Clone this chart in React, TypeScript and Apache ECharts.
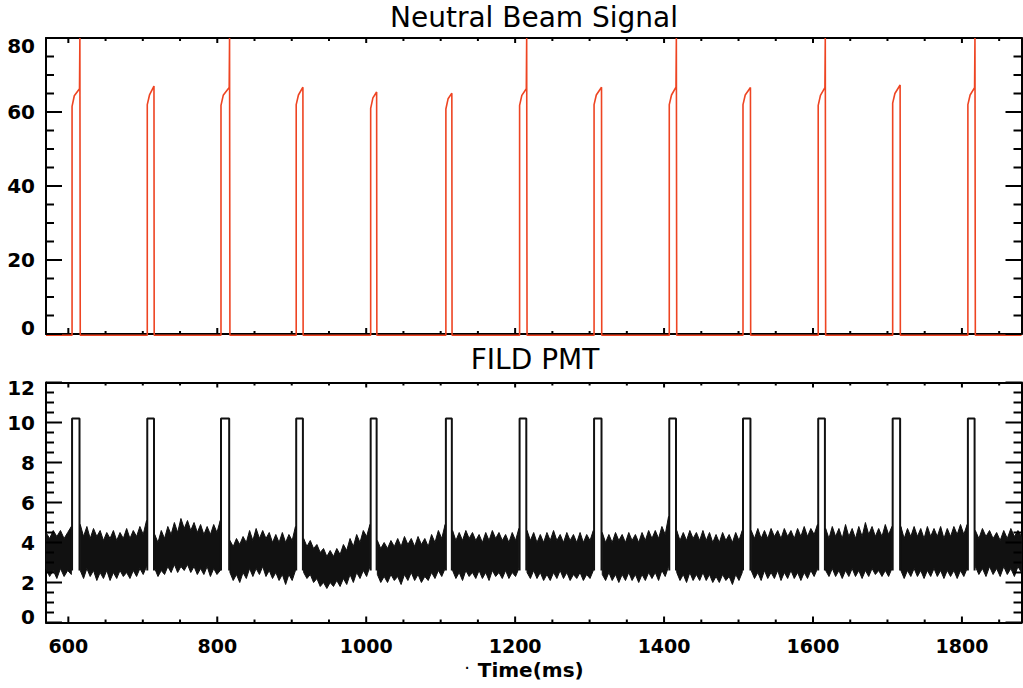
import React, { useEffect, useRef } from "react";
import * as echarts from "echarts";

// ---------- axes ----------
const xMin = 570;
const xMax = 1880;
const xMajorTicks = [600, 800, 1000, 1200, 1400, 1600, 1800];
const xMinorTicks = [650, 700, 750, 850, 900, 950, 1050, 1100, 1150, 1250, 1300, 1350, 1450, 1500, 1550, 1650, 1700, 1750, 1850];
const beamMax = 80;
const beamInterval = 20;
const beamMajorTicks = [0, 20, 40, 60, 80];
const beamMinorTicks = [5, 10, 15, 25, 30, 35, 45, 50, 55, 65, 70, 75];
const pmtMax = 12;
const pmtInterval = 2;
const pmtMajorTicks = [0, 2, 4, 6, 8, 10, 12];
const pmtMinorTicks = [0.5, 1, 1.5, 2.5, 3, 3.5, 4.5, 5, 5.5, 6.5, 7, 7.5, 8.5, 9, 9.5, 10.5, 11, 11.5];

// ---------- pulse timing (ms) ----------
const pulseStart = [605, 706, 805, 906, 1006, 1107, 1206, 1306, 1407, 1506, 1607, 1707, 1808];
const pulseEnd = [615, 715, 816, 915, 1014, 1115, 1215, 1316, 1416, 1516, 1616, 1717, 1817];

// ---------- Neutral beam signal ----------
const beamBase = -0.35;
const beamRise = [61.5, 62.0, 61.8, 62.0, 61.0, 60.8, 61.8, 62.0, 62.0, 62.0, 61.8, 62.4, 62.0];
const beamKnee = [64.4, 64.6, 64.5, 64.6, 63.8, 63.6, 64.5, 64.6, 64.6, 64.6, 64.5, 65.0, 64.6];
const beamPeak = [66.3, 67.0, 66.6, 66.7, 65.4, 65.1, 66.3, 66.7, 66.7, 66.6, 66.6, 67.3, 66.6];
const beamSpike = [true, false, true, false, false, false, true, false, true, false, true, false, true];
const beamSpikeTop = 80;

// ---------- FILD PMT ----------
const pmtPulseTop = 10.2;
const pmtPulseFoot = 2.6;
const bandStart = [570, 616, 716, 817, 916, 1015, 1116, 1216, 1317, 1417, 1517, 1617, 1718, 1818];
const bandEnd = [604, 705, 804, 905, 1005, 1106, 1205, 1305, 1406, 1505, 1606, 1706, 1807, 1880];
const bandUpperA = [4.5, 4.2, 4.6, 4.3, 4.6, 4.2, 4.5, 4.8];
const bandLowerA = [2.7, 2.3, 2.6, 2.2, 2.7, 2.3, 2.6, 2.4];
const bandUpperB = [4.9, 4.3, 4.8, 4.2, 4.7, 4.3, 4.6, 4.1, 4.5, 4.2, 4.6, 4.1, 4.5, 4.2, 4.7, 4.2, 4.6, 4.3, 4.8, 4.4, 5.1];
const bandLowerB = [2.6, 2.2, 2.7, 2.3, 2.6, 2.1, 2.5, 2.2, 2.6, 2.1, 2.5, 2.2, 2.6, 2.3, 2.5, 2.2, 2.6, 2.3, 2.7, 2.4, 2.8];
const bandUpperC = [4.4, 4.0, 4.6, 4.2, 4.8, 4.4, 5.0, 4.5, 5.2, 4.7, 5.1, 4.6, 5.0, 4.5, 4.9, 4.4, 4.8, 4.4, 4.9, 4.5, 5.1];
const bandLowerC = [2.7, 2.3, 2.6, 2.4, 2.8, 2.5, 2.9, 2.5, 2.8, 2.6, 2.9, 2.5, 2.8, 2.4, 2.7, 2.4, 2.8, 2.3, 2.7, 2.4, 2.6];
const bandUpperD = [4.1, 3.8, 4.2, 3.9, 4.3, 4.0, 4.6, 4.1, 4.7, 4.2, 4.6, 4.2, 4.5, 4.0, 4.4, 4.0, 4.5, 4.0, 4.4, 4.1, 4.8];
const bandLowerD = [2.5, 2.1, 2.4, 2.0, 2.5, 2.2, 2.7, 2.3, 2.7, 2.4, 2.8, 2.3, 2.6, 2.2, 2.5, 2.1, 2.4, 1.9, 2.4, 2.1, 2.6];
const bandUpperE = [4.2, 3.8, 4.1, 3.7, 3.9, 3.5, 3.7, 3.3, 3.6, 3.3, 3.7, 3.4, 3.9, 3.6, 4.2, 3.8, 4.4, 4.0, 4.6, 4.3, 4.9];
const bandLowerE = [2.5, 2.2, 2.4, 2.0, 2.2, 1.8, 2.0, 1.7, 2.0, 1.8, 2.1, 1.8, 2.2, 1.9, 2.4, 2.0, 2.5, 2.2, 2.6, 2.3, 2.8];
const bandUpperF = [4.1, 3.7, 4.0, 3.7, 4.1, 3.8, 4.2, 3.8, 4.3, 3.9, 4.2, 3.8, 4.3, 3.9, 4.2, 3.8, 4.4, 4.0, 4.6, 4.2, 4.9];
const bandLowerF = [2.4, 2.0, 2.3, 2.0, 2.4, 2.1, 2.3, 1.9, 2.4, 2.1, 2.5, 2.1, 2.4, 2.0, 2.3, 2.1, 2.5, 2.2, 2.6, 2.3, 2.7];
const bandUpperG = [4.6, 4.1, 4.5, 4.1, 4.6, 4.2, 4.5, 4.1, 4.4, 4.0, 4.5, 4.1, 4.6, 4.2, 4.5, 4.1, 4.4, 4.0, 4.5, 4.1, 4.7];
const bandLowerG = [2.6, 2.2, 2.5, 2.1, 2.6, 2.3, 2.5, 2.2, 2.6, 2.2, 2.5, 2.1, 2.6, 2.3, 2.5, 2.2, 2.6, 2.2, 2.5, 2.3, 2.7];
const bandUpperH = [4.6, 4.1, 4.5, 4.0, 4.4, 4.0, 4.5, 4.1, 4.6, 4.1, 4.4, 4.0, 4.5, 4.1, 4.4, 4.0, 4.5, 4.0, 4.4, 4.1, 4.6];
const bandLowerH = [2.5, 2.2, 2.6, 2.2, 2.5, 2.1, 2.4, 2.1, 2.5, 2.2, 2.6, 2.2, 2.5, 2.1, 2.4, 2.2, 2.5, 2.1, 2.4, 2.2, 2.6];
const bandUpperI = [4.5, 4.0, 4.4, 4.0, 4.5, 4.1, 4.4, 4.0, 4.5, 4.1, 4.4, 4.0, 4.5, 4.1, 4.6, 4.2, 4.6, 4.2, 4.8, 4.4, 5.3];
const bandLowerI = [2.4, 2.1, 2.5, 2.1, 2.4, 2.0, 2.4, 2.1, 2.5, 2.1, 2.4, 2.0, 2.4, 2.1, 2.5, 2.2, 2.5, 2.1, 2.6, 2.3, 2.8];
const bandUpperJ = [4.6, 4.1, 4.5, 4.1, 4.6, 4.2, 4.5, 4.1, 4.6, 4.1, 4.5, 4.0, 4.4, 4.0, 4.5, 4.1, 4.4, 4.0, 4.5, 4.1, 4.6];
const bandLowerJ = [2.5, 2.1, 2.4, 2.0, 2.5, 2.1, 2.4, 2.1, 2.5, 2.1, 2.4, 2.0, 2.3, 2.0, 2.4, 2.1, 2.3, 1.9, 2.4, 2.1, 2.5];
const bandUpperK = [4.6, 4.2, 4.7, 4.2, 4.6, 4.2, 4.7, 4.3, 4.6, 4.2, 4.7, 4.3, 4.6, 4.2, 4.7, 4.3, 4.8, 4.3, 4.7, 4.4, 4.9];
const bandLowerK = [2.6, 2.2, 2.5, 2.1, 2.6, 2.2, 2.5, 2.2, 2.6, 2.1, 2.5, 2.2, 2.6, 2.2, 2.5, 2.1, 2.5, 2.2, 2.6, 2.3, 2.7];
const bandUpperL = [4.7, 4.2, 4.8, 4.3, 4.7, 4.2, 4.9, 4.3, 4.7, 4.2, 4.8, 4.3, 5.0, 4.4, 4.8, 4.3, 4.7, 4.3, 4.9, 4.4, 4.8];
const bandLowerL = [2.6, 2.3, 2.7, 2.3, 2.6, 2.2, 2.6, 2.3, 2.7, 2.3, 2.6, 2.2, 2.6, 2.3, 2.7, 2.4, 2.6, 2.3, 2.6, 2.3, 2.7];
const bandUpperM = [4.8, 4.2, 4.7, 4.3, 4.8, 4.3, 4.7, 4.2, 4.8, 4.3, 4.7, 4.3, 4.8, 4.2, 4.7, 4.3, 4.8, 4.4, 4.9, 4.4, 4.9];
const bandLowerM = [2.6, 2.2, 2.6, 2.3, 2.7, 2.3, 2.6, 2.2, 2.6, 2.3, 2.7, 2.3, 2.6, 2.2, 2.6, 2.3, 2.6, 2.2, 2.6, 2.3, 2.7];
const bandUpperN = [4.6, 4.2, 4.7, 4.3, 4.6, 4.2, 4.5, 4.1, 4.6, 4.2, 4.7, 4.3, 4.6, 4.3];
const bandLowerN = [2.8, 2.4, 2.7, 2.3, 2.8, 2.4, 2.7, 2.3, 2.8, 2.4, 2.7, 2.3, 2.8, 2.5];

const bandUpper = [bandUpperA, bandUpperB, bandUpperC, bandUpperD, bandUpperE, bandUpperF, bandUpperG, bandUpperH, bandUpperI, bandUpperJ, bandUpperK, bandUpperL, bandUpperM, bandUpperN];
const bandLower = [bandLowerA, bandLowerB, bandLowerC, bandLowerD, bandLowerE, bandLowerF, bandLowerG, bandLowerH, bandLowerI, bandLowerJ, bandLowerK, bandLowerL, bandLowerM, bandLowerN];

// ---------- layout / style ----------
const FONT = "DejaVu Sans";
const RED = "#ee4422";
const INK = "#111111";
const GRID_LEFT = 46;
const GRID_RIGHT = 1.5;
const TOP_Y = 38;
const TOP_H = 296;
const BOT_Y = 382.5;
const BOT_H = 240;

function buildBeamData() {
  const d: any[] = [[xMin, beamBase]];
  pulseStart.forEach((s, i) => {
    const e = pulseEnd[i];
    d.push([s, beamBase], [s, beamRise[i]], [s + 3, beamKnee[i]], [e, beamPeak[i]]);
    if (beamSpike[i]) {
      d.push([e + 0.5, beamSpikeTop], [e + 1, beamBase]);
    } else {
      d.push([e + 0.3, beamBase]);
    }
  });
  d.push([xMax, beamBase]);
  return d;
}

function buildPmtPulseData() {
  const d: any[] = [];
  pulseStart.forEach((s, i) => {
    const e = pulseEnd[i];
    d.push([s, pmtPulseFoot], [s, pmtPulseTop], [e, pmtPulseTop], [e, pmtPulseFoot], [e + 0.5, null]);
  });
  return d;
}

// inward tick marks as filled bars, positioned through the chart's own axes (convertToPixel)
function tickGraphics(chart: any, gridIndex: number, yMax: number, yMajor: number[], yMinor: number[]) {
  const els: any[] = [];
  const px = (v: number[]) => chart.convertToPixel({ gridIndex }, v) as number[];
  const bar = (x: number, y: number, w: number, h: number) =>
    els.push({
      type: "rect",
      silent: true,
      z: 50,
      shape: { x, y, width: w, height: h },
      style: { fill: "#000" },
    });
  const xt = (v: number, lb: number, lt: number) => {
    const b = px([v, 0]);
    const t = px([v, yMax]);
    bar(b[0] - 1, b[1] - lb, 2, lb);
    bar(t[0] - 1, t[1], 2, lt);
  };
  xMajorTicks.forEach((v) => xt(v, 6, 5));
  xMinorTicks.forEach((v) => xt(v, 3, 3));
  const yt = (v: number, len: number) => {
    const l = px([xMin, v]);
    const r = px([xMax, v]);
    bar(l[0], l[1] - 1, len, 2);
    bar(r[0] - len, r[1] - 1, len, 2);
  };
  yMajor.forEach((v) => yt(v, 16));
  yMinor.forEach((v) => yt(v, 8));
  return els;
}

const black2 = { color: "#000", width: 2 };

function xAxes(gridIndex: number, withLabels: boolean) {
  const common: any = {
    type: "value",
    gridIndex,
    min: xMin,
    max: xMax,
    splitLine: { show: false },
    axisTick: { show: false },
  };
  return [
    {
      ...common,
      position: "bottom",
      axisLine: { show: true, onZero: false, lineStyle: black2 },
      axisLabel: withLabels
        ? {
            show: true,
            customValues: xMajorTicks,
            margin: 13.5,
            lineHeight: 19,
            color: "#000",
            fontSize: 19,
            fontWeight: "bold",
            fontFamily: FONT,
            formatter: (v: number) => String(v),
          }
        : { show: false },
      ...(withLabels
        ? {
            name: "Time(ms)",
            nameLocation: "middle",
            nameGap: 37,
            nameTextStyle: {
              color: "#000",
              fontSize: 20,
              fontWeight: "bold",
              fontFamily: FONT,
              lineHeight: 20,
              padding: [0, 6, 0, 0],
            },
          }
        : {}),
    },
    {
      ...common,
      position: "top",
      axisLine: { show: true, onZero: false, lineStyle: black2 },
      axisLabel: { show: false },
    },
  ];
}

function yAxes(gridIndex: number, max: number, interval: number, topPad: number, botPad: number) {
  const common: any = {
    type: "value",
    gridIndex,
    min: 0,
    max,
    interval,
    splitLine: { show: false },
    axisLine: { show: true, onZero: false, lineStyle: black2 },
    axisTick: { show: false },
  };
  const label = {
    show: true,
    margin: 11,
    color: "#000",
    fontSize: 20,
    fontWeight: "bold",
    fontFamily: FONT,
    formatter: (v: number) => (v === max ? `{t|${v}}` : v === 0 ? `{b|${v}}` : `${v}`),
    rich: {
      t: { padding: [topPad, 0, 0, 0], fontSize: 20, fontWeight: "bold", fontFamily: FONT, color: "#000" },
      b: { padding: [0, 0, botPad, 0], fontSize: 20, fontWeight: "bold", fontFamily: FONT, color: "#000" },
    },
  };
  return [
    { ...common, position: "left", axisLabel: label },
    { ...common, position: "right", axisLabel: { show: false } },
  ];
}

const titleGraphics = [
  {
    type: "text",
    x: 534,
    y: 17,
    style: { text: "Neutral Beam Signal", fontSize: 28, fontFamily: FONT, fill: "#000", align: "center", verticalAlign: "middle" },
  },
  {
    type: "text",
    x: 535,
    y: 359,
    style: { text: "FILD PMT", fontSize: 28, fontFamily: FONT, fill: "#000", align: "center", verticalAlign: "middle" },
  },
  {
    type: "text",
    x: 467,
    y: 662,
    style: { text: ".", fontSize: 18, fontFamily: FONT, fill: "#000", align: "center", verticalAlign: "middle" },
  },
];

export default function App() {
  const ref = useRef<HTMLDivElement>(null);
  useEffect(() => {
    if (!ref.current) return;
    const chart = echarts.init(ref.current, undefined, { renderer: "svg" });
    const option: any = {
      animation: false,
      backgroundColor: "#fff",
      grid: [
        { left: GRID_LEFT, right: GRID_RIGHT, top: TOP_Y, height: TOP_H, containLabel: false },
        { left: GRID_LEFT, right: GRID_RIGHT, top: BOT_Y, height: BOT_H, containLabel: false },
      ],
      // xAxis: 0 = top panel bottom, 1 = top panel top, 2 = bottom panel bottom, 3 = bottom panel top
      xAxis: [...xAxes(0, false), ...xAxes(1, true)],
      // yAxis: 0 = top panel left, 1 = top panel right, 2 = bottom panel left, 3 = bottom panel right
      yAxis: [...yAxes(0, beamMax, beamInterval, 16, 12), ...yAxes(1, pmtMax, pmtInterval, 11, 11)],
      graphic: titleGraphics,
      series: [
        {
          name: "Neutral Beam Signal",
          type: "line",
          xAxisIndex: 0,
          yAxisIndex: 0,
          data: buildBeamData(),
          symbol: "none",
          clip: false,
          lineStyle: { color: RED, width: 1.6 },
        },
        {
          name: "FILD PMT band",
          type: "custom",
          xAxisIndex: 2,
          yAxisIndex: 2,
          data: bandStart.map((s, i) => [s, bandEnd[i], i, 3.5]),
          encode: { x: [0, 1], y: 3 },
          renderItem: (params: any, api: any) => {
            const i = api.value(2);
            const up = bandUpper[i];
            const lo = bandLower[i];
            const s = bandStart[i];
            const e = bandEnd[i];
            const n = up.length;
            const pts: number[][] = [];
            for (let k = 0; k < n; k++) pts.push(api.coord([s + ((e - s) * k) / (n - 1), up[k]]));
            for (let k = n - 1; k >= 0; k--) pts.push(api.coord([s + ((e - s) * k) / (n - 1), lo[k]]));
            return {
              type: "polygon",
              shape: { points: pts },
              style: { fill: INK, stroke: INK, lineWidth: 1 },
            };
          },
        },
        {
          name: "FILD PMT pulses",
          type: "line",
          xAxisIndex: 2,
          yAxisIndex: 2,
          data: buildPmtPulseData(),
          symbol: "none",
          connectNulls: false,
          lineStyle: { color: INK, width: 2 },
        },
      ],
    };
    chart.setOption(option);
    const ticks = [
      ...tickGraphics(chart, 0, beamMax, beamMajorTicks, beamMinorTicks),
      ...tickGraphics(chart, 1, pmtMax, pmtMajorTicks, pmtMinorTicks),
    ];
    chart.setOption({ graphic: [...titleGraphics, ...ticks] });
    return () => chart.dispose();
  }, []);
  return (
    <div
      ref={ref}
      style={{ position: "fixed", left: 0, top: 0, width: 1023, height: 688, background: "#fff" }}
    />
  );
}
